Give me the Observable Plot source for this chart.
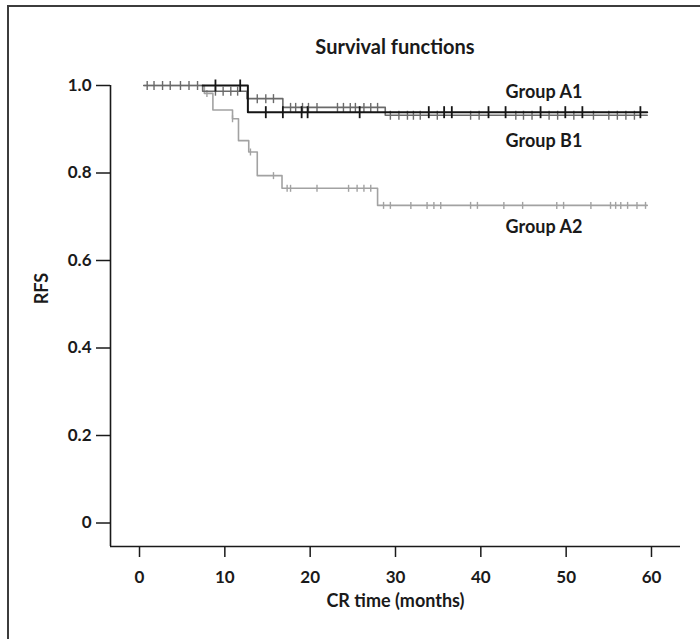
<!DOCTYPE html>
<html>
<head>
<meta charset="utf-8">
<script src="https://cdn.jsdelivr.net/npm/d3@7"></script>
<script src="https://cdn.jsdelivr.net/npm/@observablehq/plot@0.6"></script>
<style>
  html, body { margin: 0; padding: 0; background: #fff; }
  #wrap { position: relative; width: 700px; height: 639px; overflow: hidden; }
  #frame { position: absolute; left: 7px; top: 5px; width: 720px; height: 700px;
           border-top: 2.5px solid #3c3c3c; border-left: 2.5px solid #3c3c3c; pointer-events: none; }
  #title { height: 60px; box-sizing: border-box; padding-top: 36px; padding-left: 90px;
           text-align: center; font-family: Lato, sans-serif; font-weight: bold; font-size: 20px;
           line-height: 20px; color: #1a1a1a; }
</style>
</head>
<body>
<div id="wrap">
  <div id="title">Survival functions</div>
  <div id="chart"></div>
  <div id="frame"></div>
</div>
<script>
// ---- data ----
const xTicks = [0, 10, 20, 30, 40, 50, 60];
const yTicks = [0, 0.2, 0.4, 0.6, 0.8, 1.0];

// Kaplan-Meier step curves: times (months) and survival after each time
const a1Times = [7.4, 12.7, 59.5];
const a1Surv  = [1.0, 0.939, 0.939];
const b1Times = [0.5, 7.4, 12.6, 16.8, 28.8, 59.5];
const b1Surv  = [1.0, 0.987, 0.970, 0.950, 0.932, 0.932];
const a2Times = [0.5, 7.6, 8.6, 10.9, 11.6, 12.8, 13.8, 16.7, 27.9, 59.5];
const a2Surv  = [1.0, 0.982, 0.944, 0.924, 0.874, 0.848, 0.794, 0.765, 0.726, 0.726];

// censoring times
const a1Cens = [8.9, 11.8, 14.8, 16.8, 19.0, 19.7, 25.8, 33.9, 35.7, 36.6, 40.9, 42.9, 47.0, 49.9, 51.9, 58.7];
const b1Cens = [0.9, 1.7, 2.7, 3.6, 4.8, 5.8, 6.8, 8.9, 9.8, 10.7, 11.5, 13.8, 14.8, 15.7,
                17.7, 18.3, 19.1, 19.8, 20.8, 23.2, 23.9, 24.7, 25.3, 26.3, 27.1, 27.9,
                29.4, 30.4, 31.4, 32.1, 32.9, 34.9, 38.8, 39.8, 44.1, 45.0, 46.0, 48.0, 49.0,
                50.9, 53.2, 55.0, 56.0, 57.0, 58.0];
const a2Cens = [7.9, 10.9, 13.0, 15.7, 17.3, 17.7, 20.8, 24.5, 25.5, 26.3, 27.1, 28.6, 29.4,
                31.8, 33.7, 34.5, 35.3, 38.8, 39.6, 42.7, 44.9, 48.9, 49.7, 52.9, 55.2, 55.8,
                56.4, 57.2, 58.3, 59.3];

const groupNames  = ["Group A1", "Group B1", "Group A2"];
const labelX      = [42.9, 42.9, 42.9];
const labelY      = [0.984, 0.872, 0.675];

const xDomain = [-3.4, 63.4];
const yDomain = [-0.0537, 1.0];

// ---- helpers ----
const toPts = (times, surv) => times.map((t, i) => ({t, s: surv[i]}));
function survAt(times, surv, t) {
  let v = surv[0];
  for (let i = 0; i < times.length; i++) if (times[i] <= t) v = surv[i];
  return v;
}
const censPts = (cens, times, surv) => cens.map(t => ({t, s: survAt(times, surv, t)}));
const vtick = { draw(ctx, size) { const r = Math.sqrt(size / Math.PI); ctx.moveTo(0, -r); ctx.lineTo(0, r); } };

const labels = groupNames.map((g, i) => ({g, x: labelX[i], y: labelY[i]}));

const colA1 = "#151515", colB1 = "#6a6a6a", colA2 = "#a2a2a2";
const ink = "#1a1a1a";

const chart = Plot.plot({
  width: 700,
  height: 579,
  marginLeft: 110,
  marginRight: 20,
  marginTop: 25,
  marginBottom: 93,
  style: {fontFamily: "Lato, sans-serif", fontSize: "17px", fontWeight: "bold", color: ink, background: "transparent", overflow: "visible"},
  x: {domain: xDomain},
  y: {domain: yDomain},
  marks: [
    Plot.axisX({ticks: xTicks, tickSize: 11, tickPadding: 13, label: null, fontSize: 17, stroke: ink, strokeWidth: 1.5}),
    Plot.axisY({ticks: yTicks, tickSize: 14, tickPadding: 5, label: null, fontSize: 17, stroke: ink, strokeWidth: 1.5,
                tickFormat: d => d === 0 ? "0" : d.toFixed(1)}),
    Plot.ruleX([xDomain[0]], {stroke: ink, strokeWidth: 1.6}),
    Plot.ruleY([yDomain[0]], {stroke: ink, strokeWidth: 1.6}),
    Plot.line(toPts(a2Times, a2Surv), {x: "t", y: "s", curve: "step-after", stroke: colA2, strokeWidth: 1.6}),
    Plot.dot(censPts(a2Cens, a2Times, a2Surv), {x: "t", y: "s", symbol: vtick, r: 3.5, stroke: colA2, strokeWidth: 1.4, fill: "none"}),
    Plot.line(toPts(b1Times, b1Surv), {x: "t", y: "s", curve: "step-after", stroke: colB1, strokeWidth: 1.6}),
    Plot.dot(censPts(b1Cens, b1Times, b1Surv), {x: "t", y: "s", symbol: vtick, r: 4.5, stroke: colB1, strokeWidth: 1.4, fill: "none"}),
    Plot.line(toPts(a1Times, a1Surv), {x: "t", y: "s", curve: "step-after", stroke: colA1, strokeWidth: 2}),
    Plot.dot(censPts(a1Cens, a1Times, a1Surv), {x: "t", y: "s", symbol: vtick, r: 6, stroke: colA1, strokeWidth: 1.8, fill: "none"}),
    Plot.text(labels, {x: "x", y: "y", text: "g", textAnchor: "start", fontSize: 18, fill: ink}),
    Plot.text(["CR time (months)"], {frameAnchor: "bottom", dy: 60, fontSize: 18, fill: ink}),
    Plot.text(["RFS"], {y: [0.5], frameAnchor: "left", dx: -68, rotate: -90, fontSize: 18, fill: ink})
  ]
});
document.getElementById("chart").appendChild(chart);
</script>
</body>
</html>
